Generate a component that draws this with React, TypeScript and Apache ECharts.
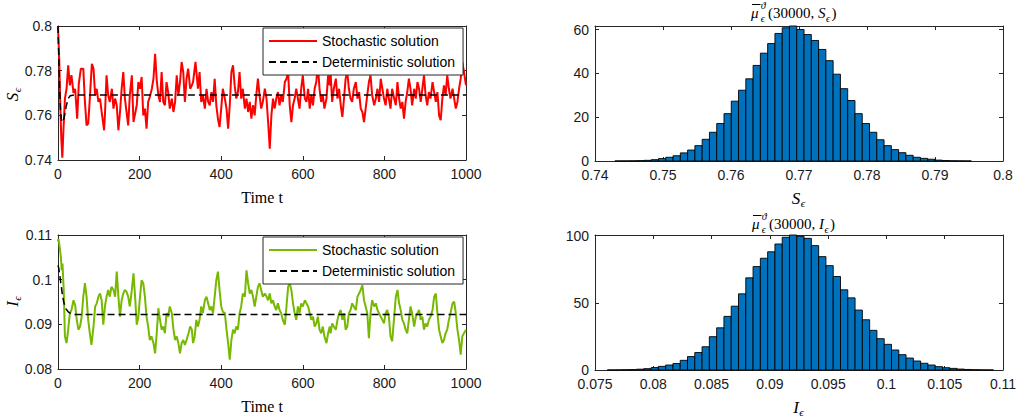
import React, { useEffect, useRef } from "react";
import * as echarts from "echarts";

// ---- S_epsilon trajectory (time, value) ----
const sTime = [0, 3, 6, 8, 10.6, 13, 17, 21, 25, 29, 33, 38, 42, 47, 51, 56, 62, 66, 70, 74, 78, 83, 87, 91, 95, 99, 103, 107, 113, 115, 119, 123, 127, 132, 136, 140, 144, 148, 152, 156, 160, 164, 168, 172, 176, 181, 185, 189, 193, 197, 201, 205, 209, 213, 217, 221, 225, 230, 234, 238, 242, 246, 250, 254, 258, 262, 266, 270, 274, 279, 283, 287, 291, 295, 299, 303, 307, 311, 315, 319, 324, 328, 331, 337, 343, 347, 351, 355, 360, 364, 368, 372, 376, 380, 384, 388, 392, 396, 400, 404, 409, 413, 417, 421, 425, 429, 433, 437, 441, 445, 449, 453, 458, 462, 466, 470, 474, 478, 482, 486, 490, 494, 498, 502, 507, 511, 515, 519, 523, 527, 531, 535, 539, 543, 547, 551, 556, 560, 564, 568, 572, 576, 580, 584, 588, 592, 596, 600, 605, 609, 613, 617, 621, 625, 629, 633, 637, 641, 645, 649, 653, 658, 662, 666, 668, 672, 676, 681, 685, 689, 693, 697, 701, 705, 709, 713, 717, 721, 725, 730, 734, 738, 742, 746, 750, 754, 758, 762, 766, 770, 775, 779, 783, 787, 791, 795, 799, 803, 807, 811, 815, 819, 824, 828, 832, 836, 840, 844, 848, 852, 856, 860, 864, 868, 873, 877, 881, 885, 889, 893, 897, 901, 905, 909, 913, 918, 922, 926, 930, 934, 938, 942, 946, 950, 954, 958, 962, 967, 971, 975, 979, 983, 987, 991, 995, 1000];
const sStochastic = [0.8, 0.785, 0.762, 0.75, 0.741, 0.752, 0.7675, 0.772, 0.7824, 0.7734, 0.778, 0.77, 0.7719, 0.7585, 0.7742, 0.7809, 0.7809, 0.766, 0.7555, 0.7563, 0.7675, 0.7831, 0.7809, 0.769, 0.7719, 0.766, 0.7675, 0.7615, 0.7533, 0.76, 0.7779, 0.769, 0.766, 0.7719, 0.763, 0.7675, 0.7645, 0.7533, 0.7615, 0.7719, 0.7794, 0.7675, 0.7615, 0.7555, 0.769, 0.7779, 0.757, 0.7607, 0.7645, 0.7749, 0.7719, 0.7772, 0.76, 0.763, 0.754, 0.766, 0.7682, 0.7719, 0.7764, 0.7876, 0.7757, 0.769, 0.766, 0.7794, 0.766, 0.7645, 0.7749, 0.7704, 0.763, 0.7675, 0.7615, 0.766, 0.7779, 0.769, 0.7749, 0.7839, 0.7794, 0.766, 0.7764, 0.7809, 0.7719, 0.7734, 0.7749, 0.7839, 0.7719, 0.7794, 0.766, 0.769, 0.763, 0.7719, 0.766, 0.7645, 0.7704, 0.766, 0.7764, 0.7645, 0.7585, 0.7548, 0.763, 0.7719, 0.7675, 0.763, 0.754, 0.7645, 0.7794, 0.7824, 0.7734, 0.7675, 0.7704, 0.7794, 0.7675, 0.7719, 0.763, 0.7675, 0.7615, 0.766, 0.7585, 0.7645, 0.76, 0.769, 0.7764, 0.769, 0.763, 0.766, 0.7719, 0.7675, 0.757, 0.7451, 0.76, 0.7675, 0.763, 0.7675, 0.7704, 0.7645, 0.769, 0.766, 0.7749, 0.7764, 0.7794, 0.7645, 0.757, 0.7645, 0.7675, 0.7719, 0.7675, 0.763, 0.7719, 0.7779, 0.7675, 0.766, 0.7719, 0.763, 0.769, 0.7645, 0.7719, 0.7749, 0.7824, 0.7719, 0.766, 0.769, 0.763, 0.7675, 0.7779, 0.7734, 0.7794, 0.766, 0.7719, 0.7764, 0.7675, 0.7719, 0.7645, 0.7593, 0.7675, 0.7764, 0.7794, 0.7719, 0.7675, 0.766, 0.7719, 0.7749, 0.7675, 0.7704, 0.763, 0.7615, 0.757, 0.763, 0.769, 0.7749, 0.7779, 0.769, 0.7645, 0.7675, 0.7719, 0.766, 0.7764, 0.7719, 0.7675, 0.7645, 0.7719, 0.7675, 0.763, 0.7719, 0.7675, 0.7645, 0.7749, 0.7675, 0.763, 0.766, 0.7585, 0.766, 0.7704, 0.7764, 0.7719, 0.7645, 0.7719, 0.7675, 0.7749, 0.7719, 0.766, 0.7719, 0.7779, 0.769, 0.7645, 0.7704, 0.7675, 0.7749, 0.7704, 0.766, 0.7704, 0.76, 0.7578, 0.7675, 0.7734, 0.769, 0.7779, 0.7719, 0.7675, 0.7719, 0.7675, 0.763, 0.766, 0.7719, 0.7764, 0.7839, 0.7794, 0.7734];

// ---- deterministic S_epsilon ----
const sDetTime = [0, 2, 4, 6, 8, 10, 13, 16, 20, 25, 30, 40, 1000];
const sDeterministic = [0.8, 0.785, 0.772, 0.763, 0.7585, 0.757, 0.7575, 0.76, 0.764, 0.7675, 0.7688, 0.7691, 0.7691];

// ---- I_epsilon trajectory (time, value) ----
const iTime = [0, 1, 3, 5, 7, 9, 11, 14, 17, 21, 25, 29, 33, 38, 42, 46, 50, 54, 58, 62, 66, 70, 74, 78, 82, 87, 91, 95, 99, 103, 107, 111, 115, 119, 123, 127, 131, 136, 140, 144, 148, 152, 156, 160, 164, 168, 172, 176, 181, 185, 189, 193, 197, 201, 205, 209, 213, 217, 221, 225, 229, 234, 238, 242, 246, 250, 254, 258, 262, 266, 270, 274, 279, 283, 287, 291, 295, 299, 303, 307, 311, 315, 320, 324, 328, 331, 335, 339, 343, 347, 351, 355, 360, 364, 368, 372, 376, 380, 384, 388, 392, 396, 400, 404, 409, 413, 417, 421, 425, 429, 433, 437, 441, 445, 449, 453, 458, 462, 466, 470, 474, 478, 482, 486, 490, 494, 498, 502, 507, 511, 515, 519, 523, 527, 531, 535, 539, 543, 547, 551, 556, 560, 564, 568, 572, 576, 580, 584, 588, 592, 596, 600, 605, 609, 613, 617, 621, 625, 629, 633, 637, 641, 645, 649, 653, 658, 662, 666, 668, 672, 676, 681, 685, 689, 693, 697, 701, 705, 709, 713, 717, 721, 725, 730, 734, 738, 742, 746, 750, 754, 758, 762, 766, 770, 775, 779, 783, 787, 791, 795, 799, 803, 807, 811, 815, 819, 824, 828, 832, 836, 840, 844, 848, 852, 856, 860, 864, 868, 873, 877, 881, 885, 889, 893, 897, 901, 905, 909, 913, 918, 922, 926, 930, 934, 938, 942, 946, 950, 954, 958, 962, 967, 971, 975, 979, 983, 987, 991, 995, 1000];
const iStochastic = [0.1085, 0.1092, 0.108, 0.1066, 0.1051, 0.1021, 0.1036, 0.0977, 0.0873, 0.0858, 0.0888, 0.0925, 0.0932, 0.0954, 0.0943, 0.091, 0.0888, 0.0895, 0.0917, 0.0962, 0.0992, 0.0962, 0.091, 0.088, 0.0854, 0.0895, 0.094, 0.0947, 0.0962, 0.0969, 0.0954, 0.0899, 0.094, 0.0962, 0.0977, 0.0962, 0.0984, 0.0977, 0.0962, 0.1018, 0.0962, 0.0917, 0.0954, 0.0969, 0.0977, 0.0973, 0.0962, 0.094, 0.0977, 0.1014, 0.0962, 0.0899, 0.0917, 0.0962, 0.0999, 0.0992, 0.0962, 0.0917, 0.0895, 0.0865, 0.0873, 0.0858, 0.0835, 0.088, 0.0936, 0.091, 0.0888, 0.0895, 0.088, 0.0925, 0.0917, 0.094, 0.0925, 0.0888, 0.0865, 0.0873, 0.0858, 0.0835, 0.0858, 0.0865, 0.0854, 0.0865, 0.088, 0.0895, 0.0888, 0.0858, 0.0873, 0.091, 0.0895, 0.091, 0.094, 0.0925, 0.0954, 0.0962, 0.0947, 0.0932, 0.094, 0.0925, 0.0962, 0.0999, 0.1018, 0.0977, 0.094, 0.0928, 0.0925, 0.0888, 0.0858, 0.0821, 0.0865, 0.0888, 0.088, 0.0895, 0.0888, 0.0925, 0.094, 0.0969, 0.0962, 0.1021, 0.0992, 0.0969, 0.0977, 0.0962, 0.094, 0.0962, 0.0984, 0.0992, 0.0977, 0.0962, 0.0969, 0.0962, 0.0954, 0.0969, 0.0947, 0.0954, 0.094, 0.0932, 0.0947, 0.0932, 0.0925, 0.091, 0.0899, 0.094, 0.0984, 0.0992, 0.0977, 0.0947, 0.0925, 0.091, 0.094, 0.0925, 0.0947, 0.094, 0.0954, 0.0947, 0.094, 0.0925, 0.091, 0.0917, 0.0895, 0.0902, 0.0917, 0.0888, 0.088, 0.0895, 0.0873, 0.0858, 0.088, 0.0895, 0.088, 0.0902, 0.0895, 0.0888, 0.091, 0.0925, 0.0932, 0.091, 0.0925, 0.0888, 0.0895, 0.0925, 0.0932, 0.0947, 0.094, 0.0932, 0.0962, 0.0969, 0.0977, 0.0988, 0.0954, 0.094, 0.0925, 0.0869, 0.0925, 0.0954, 0.094, 0.0947, 0.0932, 0.0925, 0.0917, 0.091, 0.0902, 0.0925, 0.0932, 0.0917, 0.0873, 0.0862, 0.0917, 0.0962, 0.0977, 0.0947, 0.0932, 0.091, 0.0902, 0.0888, 0.088, 0.091, 0.094, 0.0925, 0.0895, 0.0917, 0.0925, 0.0932, 0.091, 0.0917, 0.0888, 0.0902, 0.0895, 0.091, 0.0917, 0.0932, 0.0962, 0.0969, 0.0925, 0.0888, 0.0873, 0.0858, 0.0865, 0.088, 0.0888, 0.091, 0.0925, 0.0947, 0.0951, 0.0925, 0.0888, 0.0865, 0.0832, 0.0873, 0.088, 0.0888];

// ---- deterministic I_epsilon ----
const iDetTime = [0, 2, 5, 8, 11, 14, 17, 20, 25, 30, 40, 1000];
const iDeterministic = [0.1032, 0.1025, 0.1005, 0.0985, 0.0965, 0.095, 0.094, 0.0934, 0.0928, 0.0925, 0.0922, 0.0922];

// ---- empirical densities at t = 30000 ----
const sBinStart = 0.74292;
const sBinWidth = 0.00107;
const sDensity = [0.02, 0.04, 0.08, 0.15, 0.3, 0.6, 1.1, 1.7, 2.4, 3.7, 5.0, 7.0, 9.9, 13.1, 17.1, 21.6, 27.3, 32.3, 37.5, 43.6, 49.2, 53.6, 58.2, 60.8, 61.6, 60.0, 57.7, 55.0, 50.9, 45.8, 39.6, 33.0, 27.6, 21.6, 17.1, 13.1, 9.7, 7.0, 5.2, 3.8, 2.6, 1.7, 1.2, 0.8, 0.4, 0.2, 0.1, 0.05, 0.02];

const iBinStart = 0.07606;
const iBinWidth = 0.000625;
const iDensity = [0.05, 0.1, 0.2, 0.3, 0.6, 1.0, 1.8, 2.7, 3.7, 4.8, 7.2, 10.0, 13.0, 17.3, 24.8, 31.4, 39.9, 47.5, 56.7, 68.6, 77.0, 83.2, 88.0, 93.8, 98.8, 100.5, 99.5, 98.0, 92.6, 84.4, 77.7, 69.6, 59.7, 53.7, 44.6, 37.4, 29.5, 23.3, 19.1, 14.9, 11.4, 8.9, 6.7, 5.0, 3.7, 2.5, 1.7, 1.2, 0.7, 0.4, 0.2, 0.1, 0.05];

// ---- axis ranges and tick steps ----
const timeRange = [0, 1000, 200];
const sRange = [0.74, 0.8, 0.02];
const iRange = [0.08, 0.11, 0.01];
const sHistX = [0.74, 0.8, 0.01];
const iHistX = [0.075, 0.11, 0.005];
const sHistTick = 20;
const iHistTick = 50;

const legendNames = ["Stochastic solution", "Deterministic solution"];

const AX = "#262626";
const SANS = "'Liberation Sans', Arial, Helvetica, sans-serif";
const SERIF = "'Liberation Serif', 'DejaVu Serif', 'Times New Roman', serif";
const RED = "#ff0000";
const GREEN = "#77b900";
const BAR = "#0072bd";

const zip = (xs: number[], ys: number[]) => xs.map((x, k) => [x, ys[k]]);
const bins = (start: number, w: number, d: number[]) =>
  d.map((h, k) => [start + k * w, start + (k + 1) * w, h]);
const plain = (v: number) => String(v);

function valueAxis(
  dim: "x" | "y",
  grid: number,
  range: number[],
  primary: boolean,
  fmt: (v: number) => string = plain
) {
  const pos = dim === "x" ? (primary ? "bottom" : "top") : primary ? "left" : "right";
  return {
    type: "value",
    gridIndex: grid,
    position: pos,
    min: range[0],
    max: range[1],
    interval: range[2],
    axisLine: { show: true, onZero: false, lineStyle: { color: AX, width: 1 } },
    axisTick: { show: true, inside: true, length: 4, lineStyle: { color: AX, width: 1 } },
    axisLabel: {
      show: primary,
      color: "#1a1a1a",
      fontFamily: SANS,
      fontSize: 14,
      margin: dim === "x" ? 7 : 6,
      formatter: fmt,
    },
    splitLine: { show: false },
  };
}

function txt(text: string, x: number, y: number, size: number, italic = false, align = "center", rotation = 0) {
  return {
    type: "text",
    x,
    y,
    rotation,
    silent: true,
    style: {
      text,
      fontSize: size,
      fontFamily: SERIF,
      fontStyle: italic ? "italic" : "normal",
      fill: "#000",
      align,
      verticalAlign: "middle",
      textAlign: align,
      textVerticalAlign: "middle",
    },
  };
}

// italic variable with an epsilon subscript, e.g. S_ϵ; w is the letter's advance
function subVar(letter: string, w: number, x: number, y: number, rotation = 0) {
  const left = -(w + 4) / 2;
  return {
    type: "group",
    x,
    y,
    rotation,
    children: [txt(letter, left, 0, 17, true, "left"), txt("\u03f5", left + w + 0.5, 5, 11, true, "left")],
  };
}

// \bar{mu}_ϵ^ϑ(30000, X_ϵ); w is the advance of the variable letter
function densityTitle(letter: string, w: number, x: number, y: number) {
  const vx = 67;
  return {
    type: "group",
    x,
    y,
    children: [
      txt("\u03bc", 0, 0, 15, true, "left"),
      { type: "line", shape: { x1: 1, y1: -8.5, x2: 9.5, y2: -8.5 }, style: { stroke: "#000", lineWidth: 1 } },
      txt("\u03d1", 9.8, -7.5, 10, true, "left"),
      txt("\u03f5", 9.8, 5.5, 10, true, "left"),
      txt("(30000,", 17, 0, 15, false, "left"),
      txt(letter, vx, 0, 15, true, "left"),
      txt("\u03f5", vx + w + 0.5, 5, 10, true, "left"),
      txt(")", vx + w + 6, 0, 15, false, "left"),
    ],
  };
}

export default function App() {
  const ref = useRef<HTMLDivElement>(null);

  useEffect(() => {
    if (!ref.current) return;
    const chart = echarts.init(ref.current, undefined, { renderer: "svg" });

    const sMax = Math.max(...sDensity);
    const iMax = Math.max(...iDensity);
    const every = (step: number) => (v: number) =>
      Math.abs(v / step - Math.round(v / step)) < 1e-6 ? String(v) : "";

    const histItem = (params: any, api: any) => {
      const p0 = api.coord([api.value(0), api.value(2)]);
      const p1 = api.coord([api.value(1), 0]);
      return {
        type: "rect",
        shape: { x: p0[0], y: p0[1], width: p1[0] - p0[0], height: p1[1] - p0[1] },
        style: { fill: BAR, stroke: "#000", lineWidth: 0.9 },
      };
    };

    const legendBase = {
      orient: "vertical",
      left: 263,
      itemWidth: 48,
      itemHeight: 12,
      itemGap: 7,
      padding: [6, 8, 6, 5],
      backgroundColor: "#fff",
      borderColor: AX,
      borderWidth: 1,
      borderRadius: 0,
      selectedMode: false,
      itemStyle: { opacity: 0 },
      textStyle: { color: "#000", fontFamily: SANS, fontSize: 14 },
      formatter: (n: string) => n.slice(3),
    };

    chart.setOption({
      animation: false,
      backgroundColor: "#fff",
      grid: [
        { left: 58, top: 26, width: 408, height: 134 },
        { left: 58, top: 235, width: 408, height: 134 },
        { left: 595, top: 26, width: 408, height: 135 },
        { left: 595, top: 235, width: 408, height: 135 },
      ],
      xAxis: [
        valueAxis("x", 0, timeRange, true),
        valueAxis("x", 0, timeRange, false),
        valueAxis("x", 1, timeRange, true),
        valueAxis("x", 1, timeRange, false),
        valueAxis("x", 2, sHistX, true),
        valueAxis("x", 2, sHistX, false),
        valueAxis("x", 3, iHistX, true),
        valueAxis("x", 3, iHistX, false),
      ],
      yAxis: [
        valueAxis("y", 0, sRange, true),
        valueAxis("y", 0, sRange, false),
        valueAxis("y", 1, iRange, true),
        valueAxis("y", 1, iRange, false),
        valueAxis("y", 2, [0, sMax, sHistTick], true, every(sHistTick)),
        valueAxis("y", 2, [0, sMax, sHistTick], false),
        valueAxis("y", 3, [0, iMax, iHistTick], true, every(iHistTick)),
        valueAxis("y", 3, [0, iMax, iHistTick], false),
      ],
      legend: [
        { ...legendBase, top: 28, data: legendNames.map((n) => "S: " + n) },
        { ...legendBase, top: 237, data: legendNames.map((n) => "I: " + n) },
      ],
      series: [
        {
          type: "line",
          name: "S: " + legendNames[0],
          xAxisIndex: 0,
          yAxisIndex: 0,
          data: zip(sTime, sStochastic),
          symbol: "none",
          lineStyle: { color: RED, width: 2 },
          itemStyle: { color: RED },
        },
        {
          type: "line",
          name: "S: " + legendNames[1],
          xAxisIndex: 0,
          yAxisIndex: 0,
          data: zip(sDetTime, sDeterministic),
          symbol: "none",
          lineStyle: { color: "#000", width: 1.5, type: [7, 4] },
          itemStyle: { color: "#000" },
        },
        {
          type: "line",
          name: "I: " + legendNames[0],
          xAxisIndex: 2,
          yAxisIndex: 2,
          data: zip(iTime, iStochastic),
          symbol: "none",
          lineStyle: { color: GREEN, width: 2 },
          itemStyle: { color: GREEN },
        },
        {
          type: "line",
          name: "I: " + legendNames[1],
          xAxisIndex: 2,
          yAxisIndex: 2,
          data: zip(iDetTime, iDeterministic),
          symbol: "none",
          lineStyle: { color: "#000", width: 1.5, type: [7, 4] },
          itemStyle: { color: "#000" },
        },
        {
          type: "custom",
          xAxisIndex: 4,
          yAxisIndex: 4,
          data: bins(sBinStart, sBinWidth, sDensity),
          encode: { x: [0, 1], y: 2 },
          renderItem: histItem,
        },
        {
          type: "custom",
          xAxisIndex: 6,
          yAxisIndex: 6,
          data: bins(iBinStart, iBinWidth, iDensity),
          encode: { x: [0, 1], y: 2 },
          renderItem: histItem,
        },
      ],
      graphic: [
        txt("Time t", 262, 197, 16),
        txt("Time t", 262, 406, 16),
        subVar("S", 8.5, 12, 95, Math.PI / 2),
        subVar("I", 5.7, 12, 302, Math.PI / 2),
        subVar("S", 8.5, 798, 198),
        subVar("I", 5.7, 798, 407),
        densityTitle("S", 7.5, 751, 13),
        densityTitle("I", 5, 752, 224),
      ],
    });

    return () => chart.dispose();
  }, []);

  return (
    <div
      ref={ref}
      style={{ position: "absolute", left: 0, top: 0, width: 1025, height: 418, background: "#fff" }}
    />
  );
}
